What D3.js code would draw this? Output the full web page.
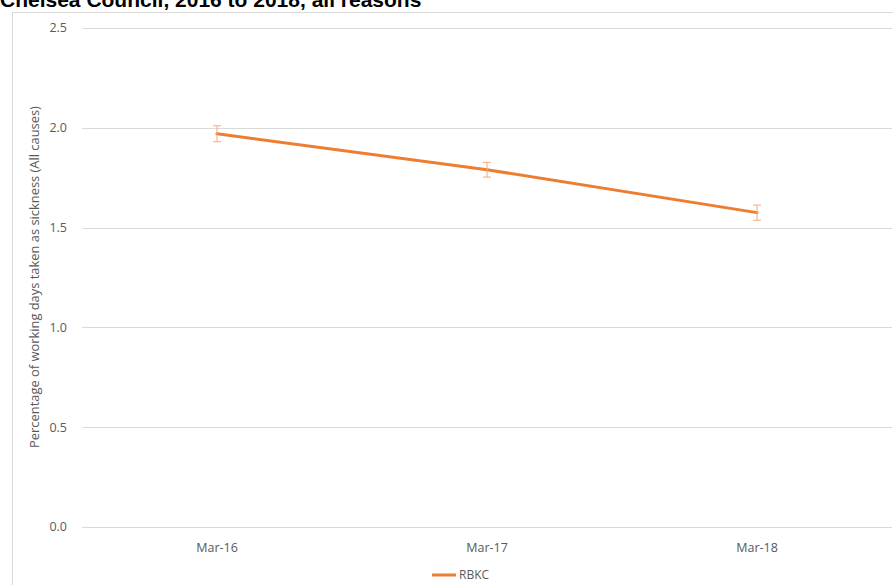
<!DOCTYPE html>
<html>
<head>
<meta charset="utf-8">
<script src="https://cdn.jsdelivr.net/npm/d3@7"></script>
<style>
  body { margin: 0; background: #fff; }
  svg { display: block; }
</style>
</head>
<body>
<svg id="chart" width="893" height="585"></svg>
<script>
const periods = ["Mar-16", "Mar-17", "Mar-18"];
const rbkcValues = [1.97, 1.79, 1.575];
const rbkcErrors = [0.04, 0.037, 0.038];
const yTicks = [0, 0.5, 1.0, 1.5, 2.0, 2.5];

const svg = d3.select("#chart");
const margin = {top: 28, right: 1, bottom: 58, left: 82};
const width = 893 - margin.left - margin.right,
      height = 585 - margin.top - margin.bottom;

// outer chart frame (clipped by page edges)
svg.append("rect")
    .attr("x", 12.5).attr("y", 12.5)
    .attr("width", 900).attr("height", 600)
    .attr("fill", "none").attr("stroke", "#d9d9d9");

svg.append("text")
    .attr("x", 0).attr("y", 7)
    .style("font", "bold 21px 'Liberation Sans', Arial, sans-serif")
    .attr("fill", "#000")
    .text("Chelsea Council, 2016 to 2018, all reasons");

const g = svg.append("g").attr("transform", "translate(" + margin.left + "," + margin.top + ")");

const x = d3.scaleBand().domain(periods).range([0, width]);
const y = d3.scaleLinear().domain([0, 2.5]).range([499, 0]);

const font = "12.5px 'Open Sans', sans-serif";

// gridlines
g.selectAll(".grid")
    .data(yTicks)
  .enter().append("line")
    .attr("x1", 0).attr("x2", width)
    .attr("y1", function(d) { return Math.round(y(d)) + 0.5; })
    .attr("y2", function(d) { return Math.round(y(d)) + 0.5; })
    .attr("stroke", "#d9d9d9").attr("stroke-width", 1);

g.selectAll(".ylab")
    .data(yTicks)
  .enter().append("text")
    .attr("x", -15)
    .attr("y", function(d) { return y(d); })
    .attr("dy", "0.35em")
    .attr("text-anchor", "end")
    .style("font", font)
    .attr("fill", "#595959")
    .text(function(d) { return d3.format(".1f")(d); });

g.selectAll(".xlab")
    .data(periods)
  .enter().append("text")
    .attr("x", function(d) { return x(d) + x.bandwidth() / 2; })
    .attr("y", y(0) + 25)
    .attr("text-anchor", "middle")
    .style("font", font)
    .attr("fill", "#595959")
    .text(function(d) { return d; });

svg.append("text")
    .attr("transform", "translate(39,277) rotate(-90)")
    .attr("text-anchor", "middle")
    .style("font", "12.9px 'Open Sans', sans-serif")
    .attr("fill", "#595959")
    .text("Percentage of working days taken as sickness (All causes)");

const pts = periods.map(function(p, i) {
  return {period: p, value: rbkcValues[i], err: rbkcErrors[i]};
});
const cx = function(d) { return x(d.period) + x.bandwidth() / 2; };

const line = d3.line()
    .x(cx)
    .y(function(d) { return y(d.value); });

g.append("path")
    .datum(pts)
    .attr("d", line)
    .attr("fill", "none")
    .attr("stroke", "#ed7d31")
    .attr("stroke-width", 3)
    .attr("stroke-linecap", "round");

const eb = g.selectAll(".err")
    .data(pts)
  .enter().append("g")
    .attr("stroke", "#f4a97a")
    .attr("stroke-width", 1);

eb.append("line")
    .attr("x1", cx).attr("x2", cx)
    .attr("y1", function(d) { return y(d.value + d.err); })
    .attr("y2", function(d) { return y(d.value - d.err); });
eb.append("line")
    .attr("x1", function(d) { return cx(d) - 4; }).attr("x2", function(d) { return cx(d) + 4; })
    .attr("y1", function(d) { return y(d.value + d.err); })
    .attr("y2", function(d) { return y(d.value + d.err); });
eb.append("line")
    .attr("x1", function(d) { return cx(d) - 4; }).attr("x2", function(d) { return cx(d) + 4; })
    .attr("y1", function(d) { return y(d.value - d.err); })
    .attr("y2", function(d) { return y(d.value - d.err); });

// legend
const legend = svg.append("g").attr("transform", "translate(432,575)");
legend.append("line")
    .attr("x1", 0).attr("x2", 24)
    .attr("stroke", "#ed7d31").attr("stroke-width", 3);
legend.append("text")
    .attr("x", 27).attr("dy", "0.35em")
    .style("font", "12px 'Open Sans', sans-serif")
    .attr("fill", "#595959")
    .text("RBKC");
</script>
</body>
</html>
